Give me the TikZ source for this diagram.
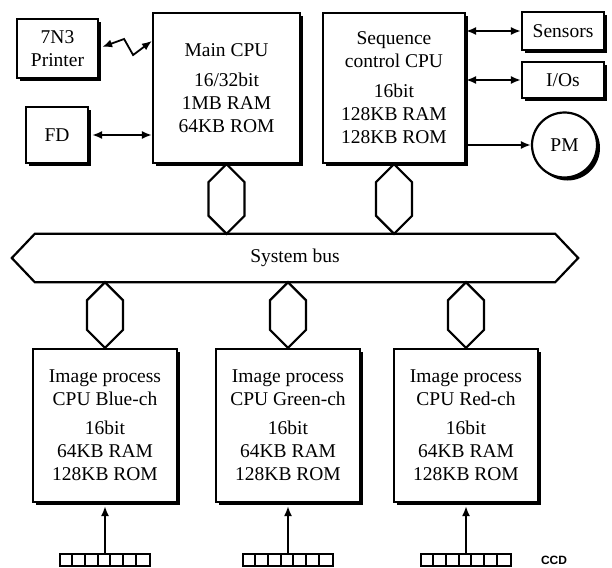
\documentclass[tikz,border=0pt]{standalone}
\usepackage{fontspec}
\setmainfont{Liberation Serif}
\newfontfamily\ccdfont{Liberation Sans}
\usetikzlibrary{arrows.meta,calc,shadows}

% hexagonal bus port between a point on a unit and a point on the bus
\newcommand\busport[2]{%
  \draw[port] (#1) -- ($(#1)+(18,18)$) -- ($(#2)+(18,-18)$) -- (#2)
    -- ($(#2)+(-18,-18)$) -- ($(#1)+(-18,18)$) -- cycle;}

\tikzset{
  txt/.style={font=\fontsize{19.5}{23}\selectfont},
  unit/.style={txt, draw, line width=2.2pt, fill=white, align=center,
    inner sep=0pt,
    drop shadow={shadow xshift=3pt, shadow yshift=-3pt,
      fill=black, opacity=1}},
  port/.style={draw, line width=2.2pt, line join=miter},
  link/.style={line width=1.8pt},
  tip/.tip={Latex[length=10pt,width=8pt]},
  ccd/.style={draw, line width=2pt, minimum width=90pt, minimum height=12pt,
    inner sep=0pt},
}

\begin{document}
\begin{tikzpicture}[x=1pt,y=-1pt]
\useasboundingbox (0,0) rectangle (612,567);
\fill[white] (0,0) rectangle (612,567);

% processors
\node[unit, minimum width=147pt, minimum height=150pt] (main) at (226.5,88)
  {Main CPU\\[7pt]16/32bit\\1MB RAM\\64KB ROM};
\node[unit, minimum width=142pt, minimum height=150pt] (seq) at (394,88)
  {Sequence\\control CPU\\[7pt]16bit\\128KB RAM\\128KB ROM};

% peripherals
\node[unit, minimum width=81pt, minimum height=59pt] (printer) at (57.5,48.5)
  {7N3\\Printer};
\node[unit, minimum width=62pt, minimum height=56pt] (fd) at (57,135) {FD};
\node[unit, minimum width=82pt, minimum height=38pt] (sensors) at (563,31)
  {Sensors};
\node[unit, minimum width=82pt, minimum height=36pt] (ios) at (563,80)
  {I/Os};
\node[unit, circle, minimum size=65pt] (pm) at (564.5,145) {PM};

% system bus
\node[txt, minimum width=566pt, minimum height=48pt, inner sep=0pt] (bus)
  at (295,258) {System bus};
\draw[port] (bus.west) -- ($(bus.north west)+(23,0)$)
  -- ($(bus.north east)+(-23,0)$) -- (bus.east)
  -- ($(bus.south east)+(-23,0)$) -- ($(bus.south west)+(23,0)$) -- cycle;

% image processors
\node[unit, minimum width=144pt, minimum height=153pt] (blue) at (105,425.5)
  {Image process\\CPU Blue-ch\\[6pt]16bit\\64KB RAM\\128KB ROM};
\node[unit, minimum width=144pt, minimum height=153pt] (green) at (288,425.5)
  {Image process\\CPU Green-ch\\[6pt]16bit\\64KB RAM\\128KB ROM};
\node[unit, minimum width=144pt, minimum height=153pt] (red) at (466,425.5)
  {Image process\\CPU Red-ch\\[6pt]16bit\\64KB RAM\\128KB ROM};

% bus ports
\busport{main.south}{main.south |- bus.north}
\busport{seq.south}{seq.south |- bus.north}
\busport{blue.north |- bus.south}{blue.north}
\busport{green.north |- bus.south}{green.north}
\busport{red.north |- bus.south}{red.north}

% peripheral links
\draw[link, {tip}-{tip}] ($(printer.east)+(3,-1.5)$) -- ++(22,-8)
  -- ++(9,16) -- ($(main.north west)+(0,29)$);
\draw[link, {tip}-{tip}] ($(fd.east)+(3,0)$) -- (fd.east -| main.west);
\draw[link, {tip}-{tip}] (seq.east |- sensors.west) -- (sensors.west);
\draw[link, {tip}-{tip}] (seq.east |- ios.west) -- (ios.west);
\draw[link, -{tip}] (seq.east |- pm.west) -- (pm.west);

% CCD line sensors
\foreach \n/\x in {ccdb/105, ccdg/288, ccdr/466} {
  \node[ccd] (\n) at (\x,560) {};
  \foreach \k in {1,...,6}
    \draw[line width=2pt] ($(\n.north west)+(\k*90/7,0)$)
      -- ($(\n.south west)+(\k*90/7,0)$);
}
\draw[link, -{tip}] (ccdb.north) -- ($(blue.south)+(0,3)$);
\draw[link, -{tip}] (ccdg.north) -- ($(green.south)+(0,3)$);
\draw[link, -{tip}] (ccdr.north) -- ($(red.south)+(0,3)$);
\node[font=\ccdfont\bfseries\fontsize{12}{14}\selectfont, inner sep=0pt]
  (ccdlabel) at (554,560) {CCD};
\end{tikzpicture}
\end{document}
